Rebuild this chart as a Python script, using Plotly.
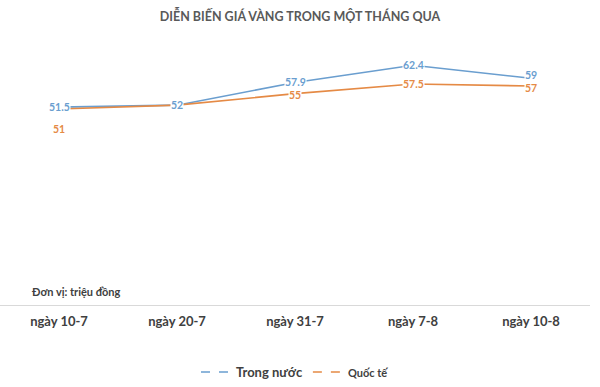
import plotly.graph_objects as go

categories = ["ngày 10-7", "ngày 20-7", "ngày 31-7", "ngày 7-8", "ngày 10-8"]
trong_nuoc = [51.5, 52, 57.9, 62.4, 59]
quoc_te = [51, 52, 55, 57.5, 57]
trong_nuoc_labels = ["51.5", "52", "57.9", "62.4", "59"]
quoc_te_labels = ["51", "", "55", "57.5", "57"]

BLUE = "#6A9ECF"
ORANGE = "#E58A45"
FONT = "Lato"

fig = go.Figure()
fig.add_trace(go.Scatter(x=categories, y=trong_nuoc, mode="lines",
                         line=dict(color=BLUE, width=1.6), showlegend=False, hoverinfo="skip"))
fig.add_trace(go.Scatter(x=categories, y=quoc_te, mode="lines",
                         line=dict(color=ORANGE, width=1.6), showlegend=False, hoverinfo="skip"))
# legend entries (dashed symbols as in the reference)
fig.add_trace(go.Scatter(x=[None], y=[None], mode="lines", name="<b>Trong nước</b>",
                         line=dict(color=BLUE, width=1.6, dash="dash")))
fig.add_trace(go.Scatter(x=[None], y=[None], mode="lines",
                         name="<b><span style='font-size:11px'>Quốc tế</span></b>",
                         line=dict(color=ORANGE, width=1.6, dash="dash")))

n = len(categories)
orange_shift = [-20, 0, -1, 0, -2]
blue_shift = [0, 0, 1, 0, 3]
for i, c in enumerate(categories):
    if quoc_te_labels[i]:
        fig.add_annotation(x=c, y=quoc_te[i], text="<b>%s</b>" % quoc_te_labels[i],
                           showarrow=False, bgcolor="white" if i != 0 else "rgba(0,0,0,0)",
                           borderpad=0, yshift=orange_shift[i],
                           font=dict(color=ORANGE, size=10.5, family=FONT))
for i, c in enumerate(categories):
    fig.add_annotation(x=c, y=trong_nuoc[i], text="<b>%s</b>" % trong_nuoc_labels[i],
                       showarrow=False, bgcolor="white", borderpad=0,
                       yshift=blue_shift[i],
                       font=dict(color=BLUE, size=10.5, family=FONT))

fig.add_annotation(xref="paper", yref="paper", x=0.05, y=0.02, xanchor="left", yanchor="bottom",
                   text="<b>Đơn vị: triệu đồng</b>", showarrow=False,
                   font=dict(size=11, color="#404040", family=FONT))

fig.update_layout(
    width=600, height=387,
    margin=dict(l=0, r=10, t=36, b=82),
    paper_bgcolor="white", plot_bgcolor="white",
    title=dict(text="<b>DIỄN BIẾN GIÁ VÀNG TRONG MỘT THÁNG QUA</b>", x=0.5, xanchor="center",
               y=1 - 17 / 387, yref="container", yanchor="middle",
               font=dict(size=12.5, color="#595959", family=FONT)),
    xaxis=dict(showgrid=False, showline=True, linecolor="#D9D9D9", linewidth=1,
               ticks="", tickvals=categories, ticktext=["<b>%s</b>" % c for c in categories],
               tickfont=dict(size=13, color="#404040", family=FONT),
               ticklabelstandoff=4, range=[-0.5, 4.5]),
    yaxis=dict(visible=False, range=[0, 70]),
    legend=dict(orientation="h", x=0.5, xanchor="center", yref="container",
                y=(387 - 372) / 387, yanchor="middle",
                font=dict(size=13, color="#404040", family=FONT)),
    showlegend=True,
)

fig.write_html("out.html", config={"displayModeBar": False},
               post_script="document.body.style.margin='0';")
